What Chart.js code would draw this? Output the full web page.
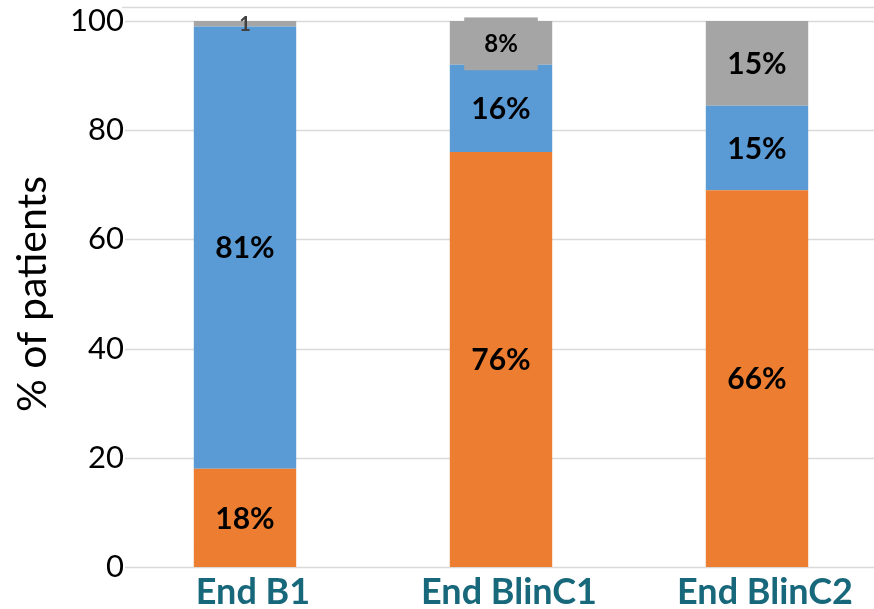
<!DOCTYPE html>
<html><head><meta charset="utf-8">
<script src="https://cdn.jsdelivr.net/npm/chart.js@4/dist/chart.umd.min.js"></script>
<style>
html,body{margin:0;padding:0;background:#fff;overflow:hidden;}
#wrap{position:relative;width:890px;height:609px;}
</style></head><body>
<div id="wrap"><canvas id="c"></canvas></div>
<script>
// ---- data ----
const categories = ['End B1', 'End BlinC1', 'End BlinC2'];
const orangeValues = [18, 76, 69];
const blueValues = [81, 16, 15.5];
const grayValues = [1, 8, 15.5];
const orangeLabels = ['18%', '76%', '66%'];
const blueLabels = ['81%', '16%', '15%'];
const grayLabels = ['1', '8%', '15%'];
const yTickValues = [0, 20, 40, 60, 80, 100];
const yTitle = '% of patients';

// ---- styles ----
const FONT = 'Lato, "Open Sans", sans-serif';
const ORANGE = '#ED7D31', BLUE = '#5B9BD5', GRAY = '#A5A5A5';
const GRID = '#D9D9D9';

function labelStyle(ds, i, text) {
  if (text === '1') return {size: 20, color: '#404040', bg: false};
  if (text === '8%') return {size: 24, color: '#000', bg: true};
  return {size: 30, color: '#000', bg: true};
}

const gridPlugin = {
  id: 'customGrid',
  beforeDatasetsDraw(chart) {
    const {ctx, chartArea, scales} = chart;
    ctx.save();
    ctx.strokeStyle = GRID;
    ctx.lineWidth = 1.5;
    yTickValues.forEach(v => {
      const y = Math.round(scales.y.getPixelForValue(v)) + 0.5;
      ctx.beginPath();
      ctx.moveTo(chartArea.left + 8, y);
      ctx.lineTo(chartArea.right, y);
      ctx.stroke();
    });
    const yt = Math.round(chartArea.top - 14) + 0.5;
    ctx.beginPath();
    ctx.moveTo(chartArea.left + 5, yt);
    ctx.lineTo(chartArea.right, yt);
    ctx.stroke();
    ctx.restore();
  }
};

const labelPlugin = {
  id: 'segLabels',
  afterDatasetsDraw(chart) {
    const {ctx} = chart;
    ctx.save();
    ctx.textAlign = 'center';
    ctx.textBaseline = 'middle';
    chart.data.datasets.forEach((ds, di) => {
      const meta = chart.getDatasetMeta(di);
      meta.data.forEach((bar, i) => {
        const text = ds.segLabels[i];
        const st = labelStyle(di, i, text);
        const cy = (bar.y + bar.base) / 2 + 1;
        ctx.font = 'bold ' + st.size + 'px ' + FONT;
        const w = ctx.measureText(text).width;
        if (st.bg) {
          ctx.fillStyle = ds.backgroundColor;
          const bw = Math.min(w + 40, bar.width);
          const bh = st.size * 2.2;
          ctx.fillRect(bar.x - bw / 2, cy - bh / 2, bw, bh);
        }
        ctx.fillStyle = st.color;
        ctx.fillText(text, bar.x, cy);
      });
    });
    ctx.restore();
  }
};

new Chart(document.getElementById('c'), {
  type: 'bar',
  data: {
    labels: categories,
    datasets: [
      {data: orangeValues, segLabels: orangeLabels, backgroundColor: ORANGE},
      {data: blueValues, segLabels: blueLabels, backgroundColor: BLUE},
      {data: grayValues, segLabels: grayLabels, backgroundColor: GRAY}
    ]
  },
  options: {
    responsive: true,
    maintainAspectRatio: false,
    animation: false,
    events: [],
    barPercentage: 0.4,
    categoryPercentage: 1,
    layout: {padding: {top: 21, right: 5, bottom: 0, left: 0}},
    plugins: {legend: {display: false}, tooltip: {enabled: false}},
    scales: {
      x: {
        stacked: true,
        grid: {display: false, drawTicks: false},
        border: {display: false},
        ticks: {
          color: '#17687B',
          font: {family: FONT, size: 36, weight: 'bold'},
          padding: 4,
          labelOffset: 8,
          maxRotation: 0
        },
        afterFit(s) { s.height = 42; }
      },
      y: {
        stacked: true,
        min: 0, max: 100,
        afterBuildTicks(s) { s.ticks = yTickValues.map(v => ({value: v})); },
        grid: {display: false, drawTicks: false},
        border: {display: false},
        ticks: {
          color: '#000',
          font: {family: FONT, size: 31},
          mirror: true,
          crossAlign: 'far',
          z: 1,
          padding: -47
        },
        title: {
          display: true,
          text: yTitle,
          color: '#000',
          font: {family: FONT, size: 41},
          padding: {top: 8, bottom: 0}
        },
        afterFit(s) { s.width = 117; }
      }
    }
  },
  plugins: [gridPlugin, labelPlugin]
});
</script>
</body></html>
